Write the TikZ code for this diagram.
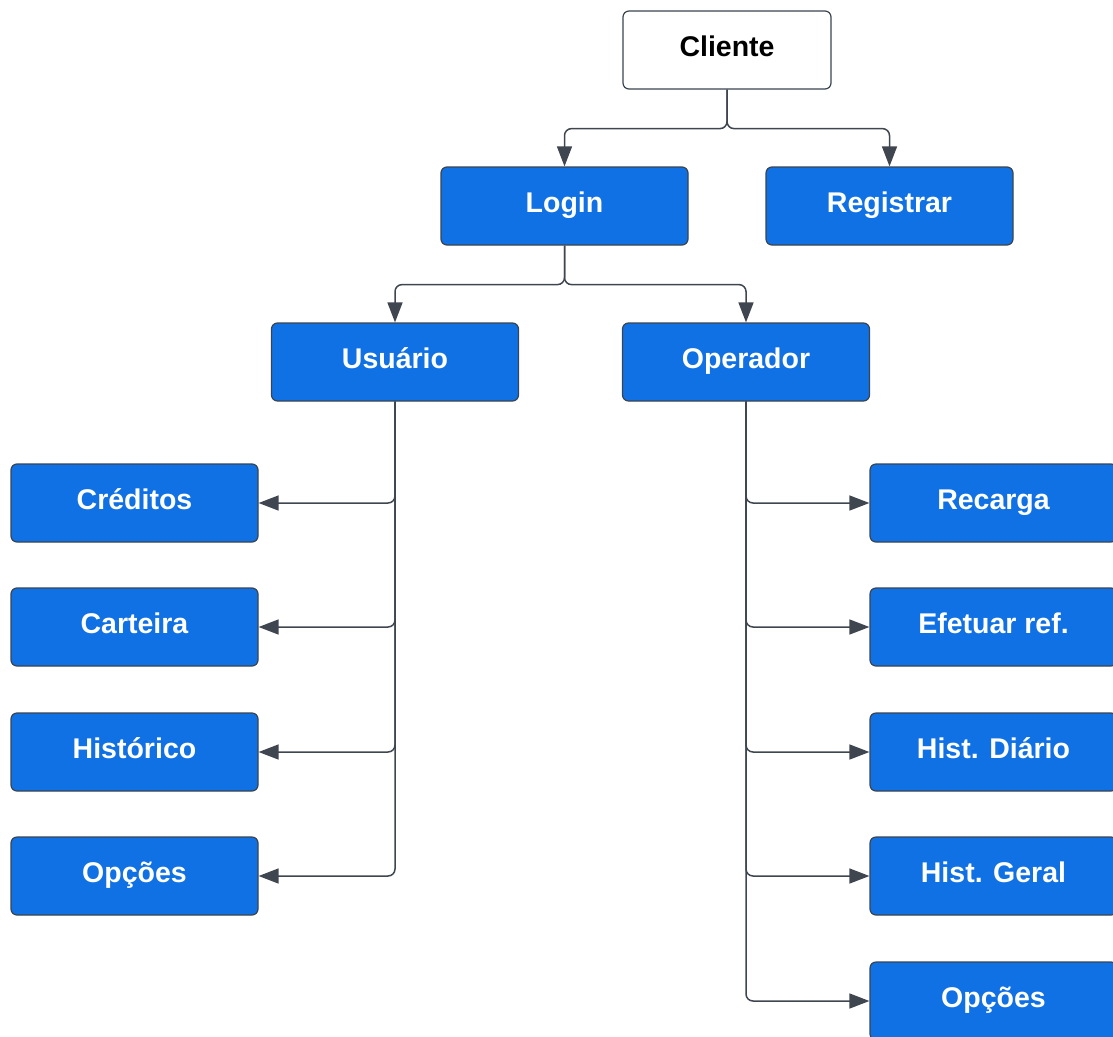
\documentclass[tikz,border=0pt]{standalone}
\usepackage{fontspec}
\setmainfont{Liberation Sans}
\usetikzlibrary{arrows.meta}

\definecolor{boxblue}{HTML}{1071E5}
\definecolor{boxedge}{HTML}{3A4450}
\definecolor{linegray}{HTML}{3F4650}

\tikzset{
	menubox/.style = {draw=boxedge, line width=1.2pt, fill=boxblue, text=white,
		rounded corners=6pt, minimum width=247pt, minimum height=78pt,
		text height=20.4pt, text depth=7.6pt,
		font=\fontsize{28.5}{34}\selectfont\bfseries},
	rootbox/.style = {menubox, fill=white, text=black, minimum width=208pt},
	conn/.style = {draw=linegray, line width=1.5pt, rounded corners=7pt,
		-{Triangle[length=20pt, width=15pt]}}
}

\begin{document}
\begin{tikzpicture}[x=1pt, y=-1pt]
	\useasboundingbox (0,0) rectangle (1113,1036);
	% topo
	\node[rootbox] (cliente) at (727,50) {Cliente};
	\node[menubox] (login) at (564.5,206) {Login};
	\node[menubox] (registrar) at (889.5,206) {Registrar};
	\node[menubox] (usuario) at (395,362) {Usuário};
	\node[menubox] (operador) at (746,362) {Operador};
	% usuario
	\node[menubox] (creditos) at (134.5,503) {Créditos};
	\node[menubox] (carteira) at (134.5,627) {Carteira};
	\node[menubox] (historico) at (134.5,752) {Histórico};
	\node[menubox] (opcoesu) at (134.5,876) {Opções};
	% operador
	\node[menubox] (recarga) at (993.5,503) {Recarga};
	\node[menubox] (efetuar) at (993.5,627) {Efetuar ref.};
	\node[menubox] (histdia) at (993.5,752) {Hist. Diário};
	\node[menubox] (histgeral) at (993.5,876) {Hist. Geral};
	\node[menubox] (opcoeso) at (993.5,1001) {Opções};

	\draw[conn] (cliente.south) -- ++(0,39) -| (login.north);
	\draw[conn] (cliente.south) -- ++(0,39) -| (registrar.north);
	\draw[conn] (login.south) -- ++(0,39) -| (usuario.north);
	\draw[conn] (login.south) -- ++(0,39) -| (operador.north);
	\foreach \n in {creditos, carteira, historico, opcoesu}
		\draw[conn] (usuario.south) |- (\n.east);
	\foreach \n in {recarga, efetuar, histdia, histgeral, opcoeso}
		\draw[conn] (operador.south) |- (\n.west);
\end{tikzpicture}
\end{document}
